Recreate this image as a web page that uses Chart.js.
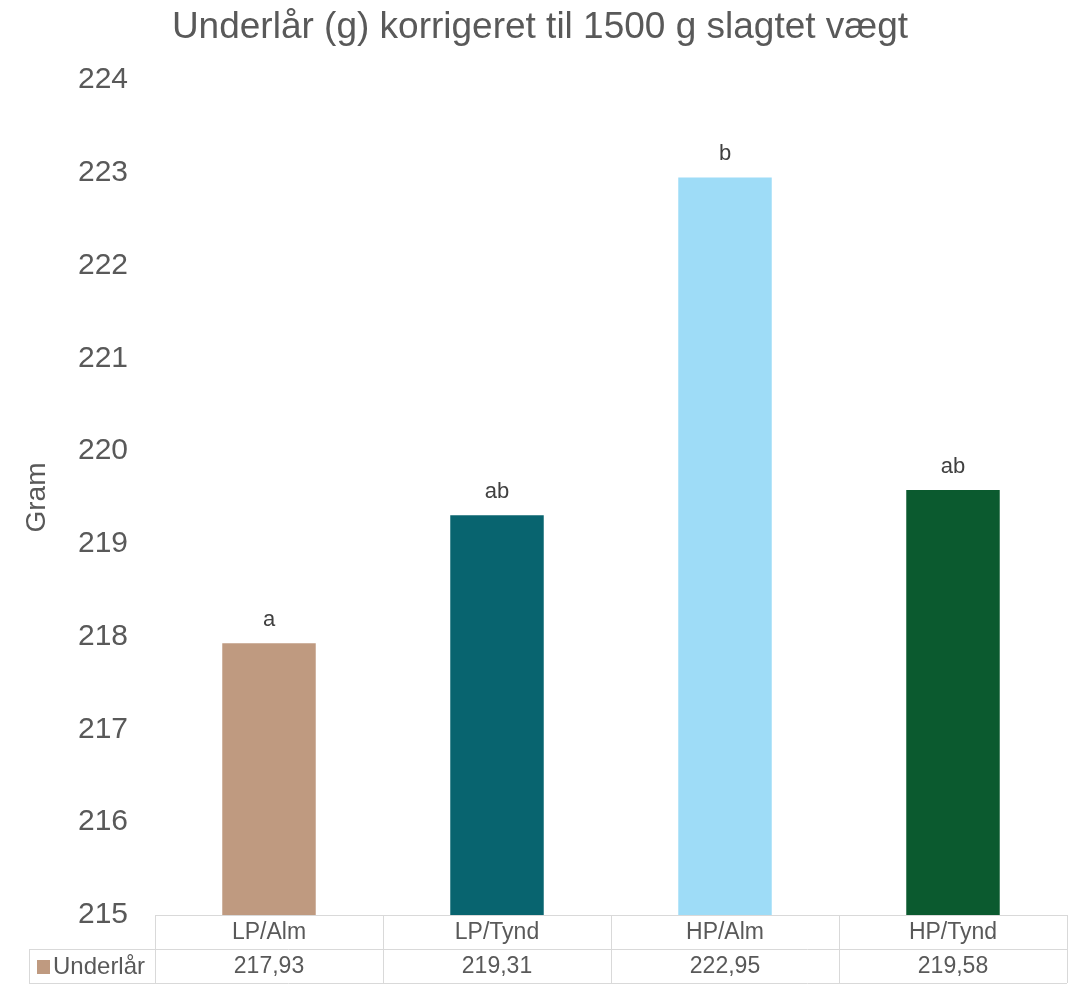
<!DOCTYPE html>
<html>
<head>
<meta charset="utf-8">
<script src="https://cdn.jsdelivr.net/npm/chart.js@4"></script>
<style>
  html, body { margin: 0; padding: 0; background: #fff; }
  #wrap { width: 1076px; height: 984px; }
</style>
</head>
<body>
<div id="wrap"><canvas id="c" width="1076" height="984"></canvas></div>
<script>
// data
const categories = ['LP/Alm', 'LP/Tynd', 'HP/Alm', 'HP/Tynd'];
const values = [217.93, 219.31, 222.95, 219.58];
const valueLabels = ['217,93', '219,31', '222,95', '219,58'];
const sigLetters = ['a', 'ab', 'b', 'ab'];
const seriesName = 'Underlår';
const barColors = ['#BF9A80', '#08646F', '#9EDCF7', '#0B5A2F'];
const yMin = 215, yMax = 224;

const FONT = '"Liberation Sans", Arial, sans-serif';
const TXT = '#595959';

// title, letters above bars and the data table under the chart
const extras = {
  id: 'extras',
  afterDatasetsDraw(chart) {
    const ctx = chart.ctx;
    const meta = chart.getDatasetMeta(0);
    ctx.save();
    ctx.fillStyle = '#404040';
    ctx.font = '22px ' + FONT;
    ctx.textAlign = 'center';
    ctx.textBaseline = 'middle';
    meta.data.forEach((bar, i) => {
      ctx.fillText(sigLetters[i], bar.x, bar.y - 23);
    });
    ctx.restore();
  },
  afterDraw(chart) {
    const ctx = chart.ctx;
    const area = chart.chartArea;
    const xs = chart.scales.x;
    const step = (area.right - area.left) / categories.length;
    const row1Top = area.bottom, row2Top = 949, row2Bot = 983;
    const tableLeft = 29;

    ctx.save();
    // title
    ctx.fillStyle = TXT;
    ctx.font = '37px ' + FONT;
    ctx.textAlign = 'center';
    ctx.textBaseline = 'middle';
    ctx.fillText('Underlår (g) korrigeret til 1500 g slagtet vægt', 540, 28);

    // table grid
    ctx.strokeStyle = '#D9D9D9';
    ctx.lineWidth = 1;
    ctx.beginPath();
    ctx.moveTo(area.left, row1Top + 0.5); ctx.lineTo(area.right, row1Top + 0.5);
    ctx.moveTo(tableLeft, row2Top + 0.5); ctx.lineTo(area.right, row2Top + 0.5);
    ctx.moveTo(tableLeft, row2Bot + 0.5); ctx.lineTo(area.right, row2Bot + 0.5);
    ctx.moveTo(tableLeft + 0.5, row2Top); ctx.lineTo(tableLeft + 0.5, row2Bot);
    for (let i = 0; i <= categories.length; i++) {
      const x = Math.round(area.left + i * step) + 0.5;
      ctx.moveTo(x, row1Top); ctx.lineTo(x, row2Bot);
    }
    ctx.stroke();

    // table text
    ctx.fillStyle = TXT;
    ctx.font = '23px ' + FONT;
    categories.forEach((c, i) => {
      const cx = xs.getPixelForValue(i);
      ctx.fillText(c, cx, (row1Top + row2Top) / 2 + 1);
      ctx.fillText(valueLabels[i], cx, (row2Top + row2Bot) / 2 + 1);
    });
    // legend key + series name
    ctx.fillStyle = barColors[0];
    ctx.fillRect(37, 960, 13, 14);
    ctx.fillStyle = TXT;
    ctx.textAlign = 'left';
    ctx.font = '24px ' + FONT;
    ctx.fillText(seriesName, 53, (row2Top + row2Bot) / 2 + 1);
    ctx.restore();
  }
};

new Chart(document.getElementById('c'), {
  type: 'bar',
  data: {
    labels: categories,
    datasets: [{
      label: seriesName,
      data: values,
      backgroundColor: barColors,
      borderWidth: 0,
      categoryPercentage: 1,
      barPercentage: 0.41
    }]
  },
  options: {
    responsive: false,
    animation: false,
    devicePixelRatio: 1,
    layout: { padding: { top: 80, bottom: 69, left: 0, right: 9 } },
    plugins: {
      legend: { display: false },
      title: { display: false },
      tooltip: { enabled: false }
    },
    scales: {
      x: { display: false },
      y: {
        min: yMin,
        max: yMax,
        afterFit(scale) { scale.width = 155; },
        grid: { display: false, drawTicks: false },
        border: { display: false },
        ticks: {
          stepSize: 1,
          padding: 27,
          color: TXT,
          font: { size: 30, family: FONT }
        },
        title: {
          display: true,
          text: 'Gram',
          color: TXT,
          font: { size: 28, family: FONT },
          padding: { top: 20, bottom: 0 }
        }
      }
    }
  },
  plugins: [extras]
});
</script>
</body>
</html>
